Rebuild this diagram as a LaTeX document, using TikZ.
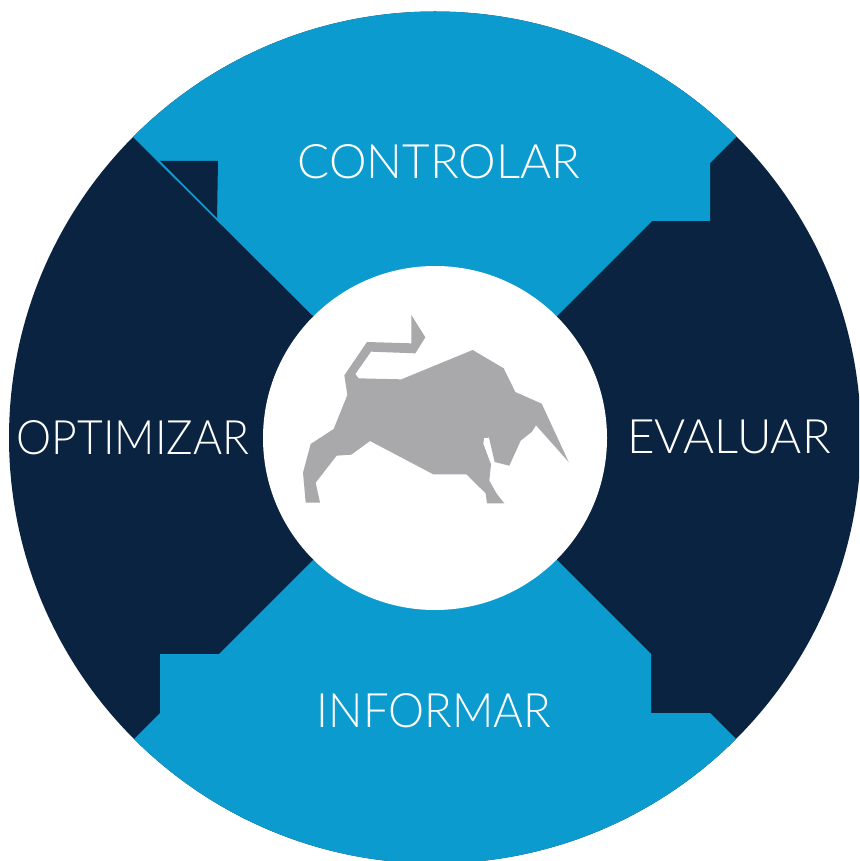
\documentclass[tikz,border=0pt]{standalone}
\usepackage{fontspec}
\setmainfont{Lato Light}
\definecolor{navy}{HTML}{0A2340}
\definecolor{sky}{HTML}{0B9BCE}
\definecolor{bull}{HTML}{A9A9AB}
\tikzset{
  word/.style={text=white,inner sep=0pt,font=\fontsize{13.5}{16}\selectfont},
}
\begin{document}
\begin{tikzpicture}[x=0.01cm,y=-0.01cm]
\useasboundingbox (0,0) rectangle (859,861);
\clip (0,0) rectangle (859,861);
% Outer disk
\fill[navy] (435,437.5) circle (426);
% Top and bottom sectors
\begin{scope}
\clip (435,437.5) circle (426);
\fill[sky] (133,137) -- (313,316) -- (557,316) -- (652,221) -- (710,221) -- (710,163) -- (736,137) -- (736,0) -- (133,0) -- cycle;
\fill[sky] (134,739) -- (160,713) -- (160,654) -- (219,654) -- (313,560) -- (557,560) -- (651,654) -- (651,713) -- (710,713) -- (736,739) -- (736,861) -- (134,861) -- cycle;
\end{scope}
% Notch
\fill[navy] (160,161) -- (218,161) -- (217,219) -- cycle;
\draw[sky,line width=0.3pt] (160,162) -- (218,220);
% Centre
\fill[white] (435,438) circle (172);
% Bull
\begin{scope}[shift={(290,300)},scale=1/3]
\fill[bull] (364,45) -- (406,112) -- (376,160) -- (243,155) -- (196,222) -- (206,235) -- (334,238) -- (548,150) -- (641,205) -- (676,276) -- (755,311) -- (836,486) -- (738,376) -- (725,396) -- (692,422) -- (658,497) -- (614,486) -- (597,413) -- (582,414) -- (580,432) -- (603,493) -- (598,542) -- (620,581) -- (643,610) -- (591,610) -- (587,580) -- (529,523) -- (430,523) -- (240,423) -- (184,464) -- (140,467) -- (77,548) -- (90,608) -- (47,608) -- (39,518) -- (62,432) -- (131,387) -- (172,285) -- (163,226) -- (231,126) -- (364,130) -- cycle;
\end{scope}
% Labels
\node[word] (controlar) at (439,162) {CONTROLAR};
\node[word] (optimizar) at (133,438) {\scalebox{0.935}[1]{OPTIMIZAR}};
\node[word] (evaluar) at (729,437) {EVALUAR};
\node[word] (informar) at (434,711) {\scalebox{0.96}[1]{INFORMAR}};
\end{tikzpicture}
\end{document}
